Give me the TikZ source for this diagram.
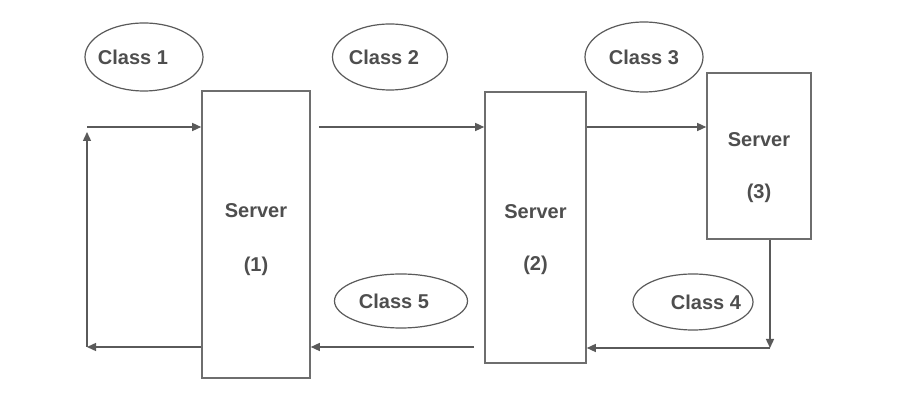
\documentclass[tikz,border=0pt]{standalone}
\usepackage{fontspec}
\setmainfont{Liberation Sans}
\usetikzlibrary{arrows.meta, positioning, shapes.geometric}
\definecolor{linegray}{RGB}{90,90,90}
\definecolor{boxgray}{RGB}{110,110,110}
\definecolor{textgray}{RGB}{78,78,78}
\tikzset{
  boxtext/.style={align=center, font=\bfseries\fontsize{10}{12}\selectfont, text=textgray},
  serverbox/.style={rectangle, draw=boxgray, line width=0.8pt, fill=white, inner sep=0pt},
  classoval/.style={ellipse, draw=linegray, line width=0.6pt, inner sep=0pt},
  arrow/.style={-{Triangle[length=4.5pt, width=4pt]}, line width=0.7pt, draw=linegray}
}

\begin{document}
\begin{tikzpicture}[x=0.5pt, y=-0.5pt]
  \useasboundingbox[fill=white] (0,0) rectangle (906,416);

  % servers
  \node[serverbox, minimum width=54pt, minimum height=143.5pt,
        label={[boxtext, yshift=-2.5pt]center:Server\\[15pt](1)}] (s1) at (256,234.5) {};
  \node[serverbox, minimum width=50.5pt, minimum height=135.5pt,
        label={[boxtext, yshift=-6pt]center:Server\\[14pt](2)}] (s2) at (535.5,227.5) {};
  \node[serverbox, minimum width=52pt, minimum height=83pt,
        label={[boxtext, yshift=-6pt]center:Server\\[14pt](3)}] (s3) at (759,156) {};

  % classes
  \node[classoval, minimum width=59pt, minimum height=34pt,
        label={[boxtext, xshift=-5.5pt]center:Class 1}] (c1) at (144,57) {};
  \node[classoval, minimum width=57.5pt, minimum height=33pt,
        label={[boxtext, xshift=-3pt]center:Class 2}] (c2) at (390,57) {};
  \node[classoval, minimum width=59pt, minimum height=35pt,
        label={[boxtext]center:Class 3}] (c3) at (644,57) {};
  \node[classoval, minimum width=60pt, minimum height=28pt,
        label={[boxtext, xshift=6.5pt]center:Class 4}] (c4) at (693,302) {};
  \node[classoval, minimum width=66.5pt, minimum height=27pt,
        label={[boxtext, xshift=-3.5pt]center:Class 5}] (c5) at (401,301) {};

  \coordinate (lt) at (87,127);
  \coordinate (lb) at (87,347);
  \coordinate (rb) at (770,348);

  \draw[arrow] (s1.west |- lb) -- (lb);
  \draw[arrow] (lb) -- ([yshift=-2.5pt]lt);
  \draw[arrow] (lt) -- (s1.west |- lt);
  \draw[arrow] ([xshift=4pt]s1.east |- lt) -- (s2.west |- lt);
  \draw[arrow] (s2.east |- lt) -- (s3.west |- lt);
  \draw[arrow] (rb |- s3.south) -- (rb);
  \draw[arrow] (rb) -- (s2.east |- rb);
  \draw[arrow] ([xshift=-5pt]s2.west |- lb) -- (s1.east |- lb);
\end{tikzpicture}
\end{document}
